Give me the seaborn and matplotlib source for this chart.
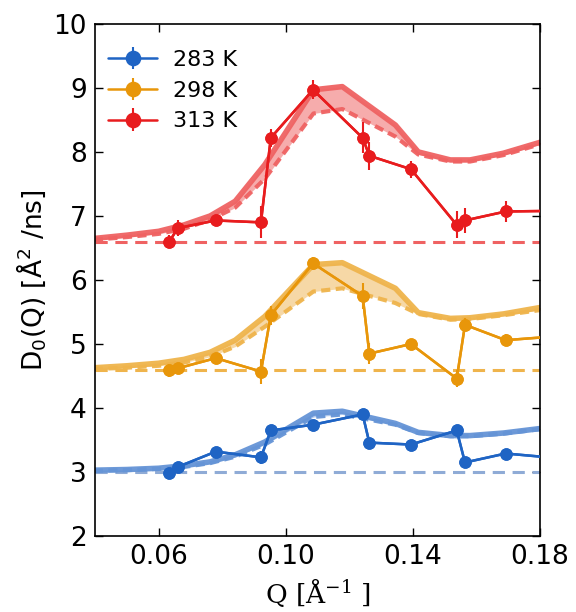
import numpy as np
import pandas as pd
import matplotlib
matplotlib.use("Agg")
import matplotlib.pyplot as plt
import seaborn as sns

# ---- data ----
temps = ["283 K", "298 K", "313 K"]
q_data = [0.0634, 0.066, 0.078, 0.0922, 0.0953, 0.1086, 0.1242, 0.1263,
          0.1394, 0.1538, 0.1564, 0.1692, 0.185]
d_283 = [2.99, 3.08, 3.32, 3.23, 3.65, 3.74, 3.90, 3.46, 3.43, 3.65, 3.15, 3.29, 3.22]
e_283 = [0.06, 0.06, 0.05, 0.10, 0.06, 0.05, 0.08, 0.06, 0.05, 0.08, 0.07, 0.05, 0.05]
d_298 = [4.59, 4.62, 4.78, 4.57, 5.45, 6.26, 5.75, 4.85, 5.00, 4.46, 5.30, 5.06, 5.12]
e_298 = [0.10, 0.06, 0.05, 0.19, 0.15, 0.10, 0.20, 0.16, 0.08, 0.13, 0.10, 0.09, 0.09]
d_313 = [6.60, 6.81, 6.93, 6.90, 8.22, 8.97, 8.22, 7.94, 7.73, 6.86, 6.93, 7.07, 7.08]
e_313 = [0.10, 0.12, 0.06, 0.25, 0.14, 0.15, 0.24, 0.22, 0.13, 0.21, 0.19, 0.16, 0.16]

q_model = [0.035, 0.04, 0.05, 0.06, 0.068, 0.0762, 0.0841, 0.0934, 0.1087,
           0.1178, 0.1345, 0.1417, 0.1518, 0.158, 0.1685, 0.18, 0.185]
m_283 = [3.02, 3.03, 3.04, 3.06, 3.10, 3.16, 3.27, 3.47, 3.92, 3.95, 3.76, 3.62,
         3.57, 3.57, 3.61, 3.68, 3.70]
m0_283 = [3.01, 3.02, 3.03, 3.05, 3.08, 3.14, 3.24, 3.43, 3.86, 3.90, 3.74, 3.61,
          3.56, 3.56, 3.60, 3.67, 3.69]
m_298 = [4.62, 4.63, 4.66, 4.70, 4.76, 4.87, 5.06, 5.43, 6.24, 6.27, 5.87, 5.49,
         5.40, 5.41, 5.47, 5.57, 5.61]
m0_298 = [4.60, 4.61, 4.63, 4.66, 4.71, 4.80, 4.96, 5.27, 5.82, 5.87, 5.64, 5.47,
          5.38, 5.39, 5.45, 5.53, 5.57]
m_313 = [6.64, 6.65, 6.70, 6.76, 6.86, 7.00, 7.23, 7.80, 8.97, 9.02, 8.42, 8.00,
         7.875, 7.875, 7.98, 8.15, 8.22]
m0_313 = [6.62, 6.63, 6.67, 6.72, 6.80, 6.94, 7.13, 7.58, 8.60, 8.67, 8.24, 7.96,
          7.85, 7.85, 7.95, 8.12, 8.19]
baselines = [3.0, 4.6, 6.6]

data_colors = ["#1f64c4", "#e8960a", "#e81c1e"]
model_colors = ["#6594d6", "#efb44c", "#ef6262"]
fill_colors = ["#a9c3ea", "#f5d49c", "#f5a3a3"]
base_colors = ["#8fabd6", "#efb44c", "#ef6262"]

sns.set_style("ticks")
plt.rcParams["font.family"] = ["DejaVu Sans"]
plt.rcParams["mathtext.default"] = "regular"
for k in ["text.color", "axes.labelcolor", "xtick.color", "ytick.color",
          "axes.edgecolor"]:
    plt.rcParams[k] = "black"

fig = plt.figure(figsize=(5.76, 6.12), dpi=100)
ax = fig.add_axes([0.165, 0.124, 0.7725, 0.837])

series_d = [d_283, d_298, d_313]
series_e = [e_283, e_298, e_313]
series_m = [m_283, m_298, m_313]
series_m0 = [m0_283, m0_298, m0_313]

for i, t in enumerate(temps):
    dfm = pd.DataFrame({"Q": q_model, "D": series_m[i], "D0": series_m0[i]})
    ax.fill_between(dfm["Q"], dfm["D0"], dfm["D"], color=fill_colors[i],
                    alpha=0.9, lw=0, zorder=1)
    sns.lineplot(data=dfm, x="Q", y="D", ax=ax, color=model_colors[i],
                 lw=4, alpha=0.95, zorder=2, legend=False)
    sns.lineplot(data=dfm, x="Q", y="D0", ax=ax, color=model_colors[i],
                 lw=3, alpha=0.95, zorder=2, legend=False, dashes=False)
    ax.lines[-1].set_linestyle((0, (2.2, 1.3)))
    ax.axhline(baselines[i], color=base_colors[i], lw=2.2,
               ls=(0, (4, 2.5)), zorder=1.5)

handles = []
for i, t in enumerate(temps):
    dfd = pd.DataFrame({"Q": q_data, "D": series_d[i], "err": series_e[i]})
    sns.lineplot(data=dfd, x="Q", y="D", ax=ax, color=data_colors[i],
                 lw=1.8, marker="o", markersize=9, markeredgewidth=0,
                 zorder=4, legend=False)
    h = ax.errorbar(dfd["Q"], dfd["D"], yerr=dfd["err"], fmt="-o",
                    color=data_colors[i], lw=1.8, ms=9, mew=0, capsize=4,
                    capthick=1.5, elinewidth=1.5, zorder=4, label=t)
    handles.append(h)

ax.set_xlim(0.04, 0.18)
ax.set_ylim(2, 10)
ax.set_xticks([0.06, 0.10, 0.14, 0.18])
ax.set_xticklabels(["0.06", "0.10", "0.14", "0.18"])
ax.set_yticks(range(2, 11))
ax.tick_params(direction="in", length=6, width=1, labelsize=19,
               top=True, right=True, pad=6, colors="black")
for s in ax.spines.values():
    s.set_linewidth(1.2)
    s.set_color("black")

ax.set_xlabel("Q [Å$^{-1}$ ]", fontsize=19, family="DejaVu Serif", labelpad=4)
ax.set_ylabel("D$_0$(Q) [Å$^2$ /ns]", fontsize=19, labelpad=4)

ax.legend(handles=handles, labels=temps, loc="upper left", frameon=False,
          fontsize=16, handlelength=2.2, borderaxespad=0.2, labelspacing=0.48,
          markerscale=1.25, handletextpad=0.7, bbox_to_anchor=(0.0, 0.975))

fig.savefig("out.png", dpi=100)
